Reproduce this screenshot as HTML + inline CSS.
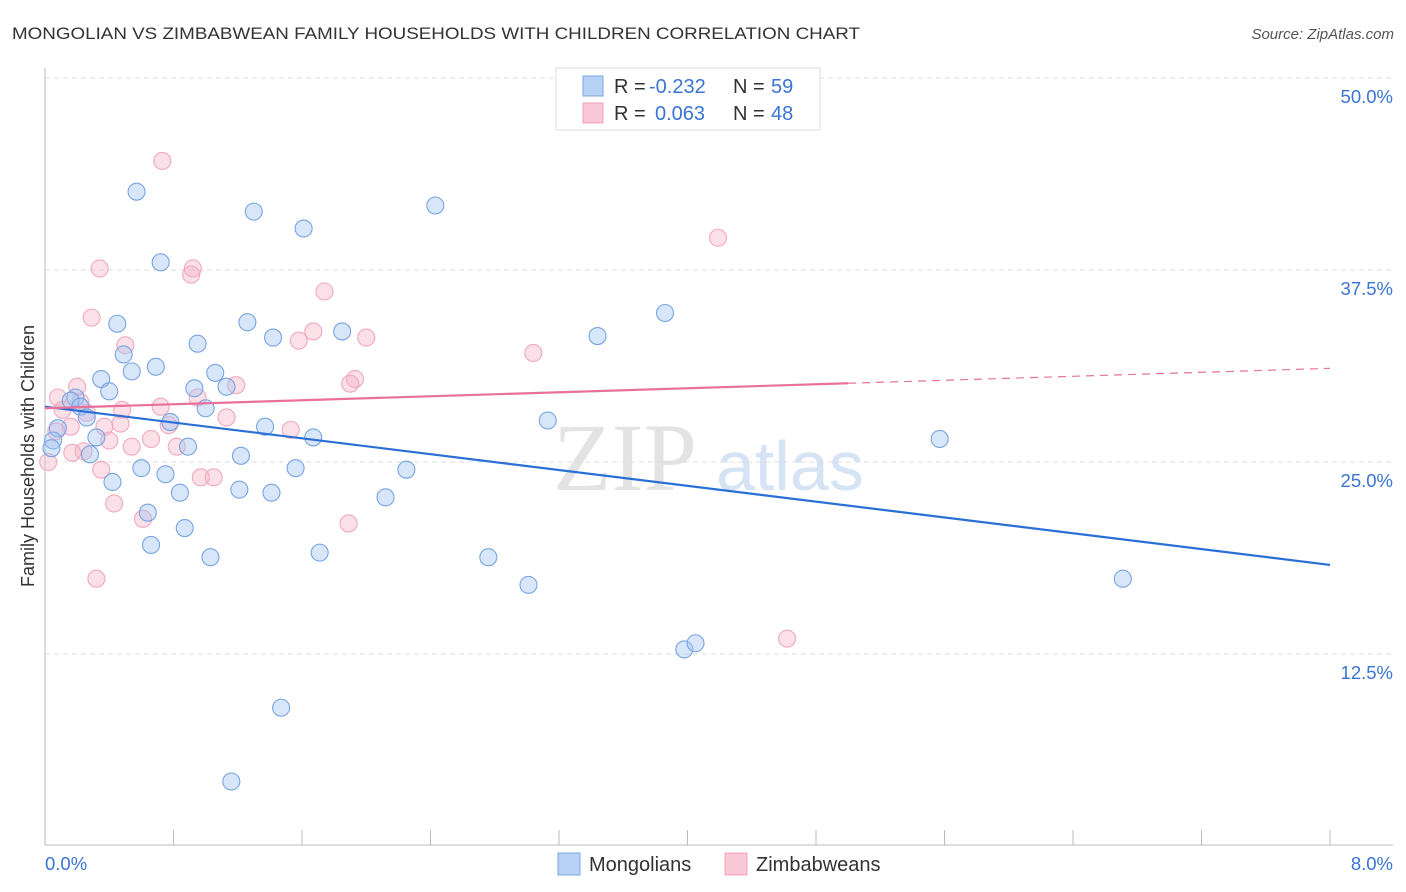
<!DOCTYPE html>
<html><head><meta charset="utf-8"><style>
body{margin:0;background:#fff;font-family:"Liberation Sans",sans-serif;}
svg{display:block}
</style></head><body>
<svg id="chart" width="1406" height="892">
<text x="12" y="39" font-size="17" fill="#333" textLength="848" lengthAdjust="spacingAndGlyphs">MONGOLIAN VS ZIMBABWEAN FAMILY HOUSEHOLDS WITH CHILDREN CORRELATION CHART</text>
<text x="1394" y="39" font-size="15" fill="#555" font-style="italic" text-anchor="end">Source: ZipAtlas.com</text>
<g>
<text x="553" y="490" font-size="96" fill="#e3e3e3" font-family="Liberation Serif,serif">ZIP</text>
<text x="716" y="490" font-size="70" fill="#d5e3f5">atlas</text>
</g>
<g id="grid"></g>
<g id="axes"></g>
<g id="pts"></g>
<g id="lines"></g>
<text x="34" y="456" font-size="18" fill="#333" transform="rotate(-90 34 456)" text-anchor="middle">Family Households with Children</text>
<text x="45" y="870" font-size="18.5" fill="#3a74d4">0.0%</text>
<text x="1393" y="870" font-size="18.5" fill="#3a74d4" text-anchor="end">8.0%</text>
<g>
<rect x="556" y="68" width="264" height="62" fill="#fff" stroke="#ddd"/>
<rect x="583" y="76" width="20" height="20" fill="#b8d2f5" stroke="#7aa6e4"/>
<rect x="583" y="103" width="20" height="20" fill="#f9c7d5" stroke="#eea0b8"/>
<text x="614" y="93" font-size="20" fill="#333">R = <tspan fill="#3a74d4" x="649">-0.232</tspan><tspan x="733">N = </tspan><tspan fill="#3a74d4" x="771">59</tspan></text>
<text x="614" y="120" font-size="20" fill="#333">R = <tspan fill="#3a74d4" x="655">0.063</tspan><tspan x="733">N = </tspan><tspan fill="#3a74d4" x="771">48</tspan></text>
</g>
<g>
<rect x="558" y="853" width="22" height="22" fill="#b8d2f5" stroke="#7aa6e4"/>
<text x="589" y="871" font-size="20" fill="#333">Mongolians</text>
<rect x="725" y="853" width="22" height="22" fill="#f9c7d5" stroke="#eea0b8"/>
<text x="756" y="871" font-size="20" fill="#333">Zimbabweans</text>
</g>
</svg>
<script>
const yTicks=[12.5,25,37.5,50];
const yTickLabels=["12.5%","25.0%","37.5%","50.0%"];
const xTicks=[0,0.8,1.6,2.4,3.2,4,4.8,5.6,6.4,7.2,8];
const blueX=[0.57,1.30,1.61,2.43,0.72,0.45,1.26,1.42,1.85,0.95,0.49,0.69,0.54,0.35,1.06,0.40,0.93,1.13,0.19,0.16,0.22,0.26,1.00,0.78,0.08,0.32,1.37,1.67,0.89,0.05,0.04,0.28,1.22,0.60,1.56,2.25,0.75,0.42,0.84,1.21,1.41,2.12,0.64,0.87,0.66,1.71,1.03,2.76,3.01,3.13,3.44,3.86,5.57,6.71,3.98,4.05,1.47,1.16];
const blueY=[42.6,41.3,40.2,41.7,38.0,34.0,34.1,33.1,33.5,32.7,32.0,31.2,30.9,30.4,30.8,29.6,29.8,29.9,29.2,29.0,28.6,27.9,28.5,27.6,27.2,26.6,27.3,26.6,26.0,26.4,25.9,25.5,25.4,24.6,24.6,24.5,24.2,23.7,23.0,23.2,23.0,22.7,21.7,20.7,19.6,19.1,18.8,18.8,17.0,27.7,33.2,34.7,26.5,17.4,12.8,13.2,9.0,4.2];
const pinkX=[0.73,0.34,0.91,0.92,4.19,1.74,0.29,1.67,1.58,2.00,0.50,3.04,1.19,1.93,1.90,0.20,0.08,0.22,0.72,0.11,0.48,0.26,0.95,1.13,0.16,0.37,0.47,0.77,1.53,0.66,0.40,0.54,0.82,0.24,0.17,0.02,0.35,0.97,1.05,0.43,0.61,1.89,0.32,4.62,0.07];
const pinkY=[44.6,37.6,37.2,37.6,39.6,36.1,34.4,33.5,32.9,33.1,32.6,32.1,30.0,30.4,30.1,29.9,29.2,28.9,28.6,28.4,28.4,28.2,29.2,27.9,27.3,27.3,27.5,27.4,27.1,26.5,26.4,26.0,26.0,25.7,25.6,25.0,24.5,24.0,24.0,22.3,21.3,21.0,17.4,13.5,27.0];
const blueTrend=[28.6,18.3];
const pinkTrend=[28.5,31.1];
const X=v=>45+v/8*1285;
const Y=v=>846-v/12.5*192;
const NS="http://www.w3.org/2000/svg";
function mk(tag,attrs,parent){const e=document.createElementNS(NS,tag);for(const k in attrs)e.setAttribute(k,attrs[k]);parent.appendChild(e);return e;}
const grid=document.getElementById('grid'),axes=document.getElementById('axes'),pts=document.getElementById('pts'),lines=document.getElementById('lines');
yTicks.forEach((t,i)=>{
 const l=mk('line',{x1:45,x2:1393,y1:Y(t),y2:Y(t),stroke:'#ddd','stroke-dasharray':'5,4'},grid);
 
 
 const tx=mk('text',{x:1393,y:Y(t)+25,'font-size':18.5,fill:'#3a74d4','text-anchor':'end'},grid);
 tx.textContent=yTickLabels[i];
 
 
});
mk('line',{x1:45,x2:45,y1:68,y2:845,stroke:'#bbb'},axes);
mk('line',{x1:45,x2:1393,y1:845,y2:845,stroke:'#bbb'},axes);
xTicks.forEach(t=>{
 const l=mk('line',{x1:X(t),x2:X(t),y1:830,y2:845,stroke:'#bbb'},axes);
 
 
});
pinkX.forEach((x,i)=>{
 const c=mk('circle',{cx:X(x),cy:Y(pinkY[i]),r:8.5,fill:'rgba(246,178,198,0.4)',stroke:'#f0a8bf','stroke-width':1.1},pts);
 
 
});
blueX.forEach((x,i)=>{
 const c=mk('circle',{cx:X(x),cy:Y(blueY[i]),r:8.5,fill:'rgba(160,196,240,0.42)',stroke:'#78a4e2','stroke-width':1.1},pts);
 
 
});
const bl=mk('line',{x1:X(0),y1:Y(blueTrend[0]),x2:X(8),y2:Y(blueTrend[1]),stroke:'#2a6fd6','stroke-width':2.2},lines);


const pm=pinkTrend[0]+(pinkTrend[1]-pinkTrend[0])*5/8;
const pl=mk('line',{x1:X(0),y1:Y(pinkTrend[0]),x2:X(5),y2:Y(pm),stroke:'#e8709a','stroke-width':2.2},lines);


const pd=mk('line',{x1:X(5),y1:Y(pm),x2:X(8),y2:Y(pinkTrend[1]),stroke:'#e8709a','stroke-width':1.2,'stroke-dasharray':'8,6'},lines);


</script>
</body></html>
